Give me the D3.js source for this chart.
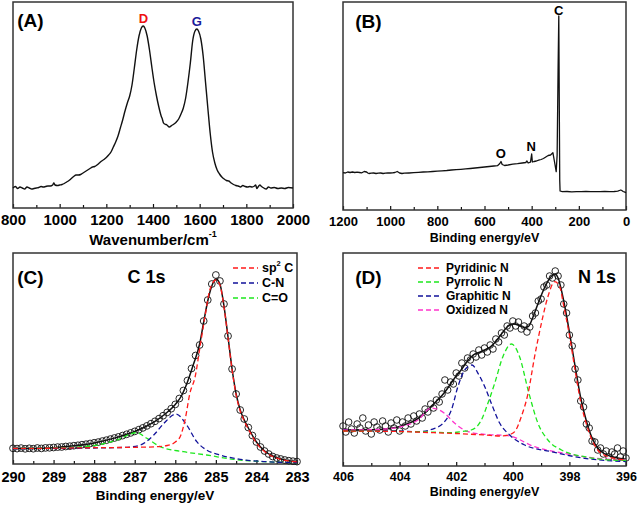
<!DOCTYPE html>
<html><head><meta charset="utf-8">
<script src="https://cdn.jsdelivr.net/npm/d3@7/dist/d3.min.js"></script>
<style>
body{margin:0;background:#fff}
svg{display:block}
text{font-family:"Liberation Sans",Arial,sans-serif;font-weight:bold;fill:#000}
</style>
</head><body>
<svg id="chart" width="638" height="505"></svg>
<script>
// ---------- Panel A: Raman spectrum [wavenumber, intensity(a.u.)] ----------
const ramanData = [[800,20],[810,21.5],[820,19.5],[830,21],[840,20],[850,19],[860,21],[870,20],[880,19],[890,19.5],[900,20],[910,20.5],[920,21.5],[930,21],[940,21.5],[950,22],[960,22],[970,23],[975,25],[980,23],[990,22.5],[1000,23],[1010,23.5],[1020,24.5],[1030,26],[1040,27.5],[1050,29.5],[1060,31.5],[1070,33],[1080,33],[1090,33.5],[1100,35],[1110,36.5],[1120,38],[1130,39.5],[1140,41],[1150,41.5],[1160,43],[1170,45],[1180,47],[1190,48.5],[1200,50.5],[1210,53],[1220,56],[1230,61],[1240,66],[1250,72],[1260,80],[1270,88],[1280,97],[1290,105],[1300,112],[1310,123],[1320,140],[1330,158],[1340,172],[1350,180],[1358,182],[1365,180],[1375,172],[1385,158],[1395,141],[1405,125],[1415,112],[1425,101],[1435,92],[1440,89],[1445,85],[1450,84],[1460,83],[1470,81],[1480,82.5],[1490,84],[1500,86],[1510,89],[1520,94],[1530,100],[1540,110],[1550,126],[1560,145],[1570,167],[1580,177],[1588,179],[1595,177],[1605,169],[1615,152],[1625,126],[1635,100],[1645,75],[1655,56],[1665,45],[1675,38],[1685,34],[1695,31],[1705,29],[1715,27.5],[1725,27],[1735,25],[1745,23.5],[1755,22.5],[1765,22],[1775,21],[1785,22.5],[1795,21.5],[1805,21],[1815,21.5],[1825,21],[1835,22],[1840,23],[1845,19.5],[1850,21],[1858,23],[1865,21.5],[1875,20],[1885,19],[1895,21],[1905,20],[1920,20.5],[1935,19.5],[1950,20],[1965,19.5],[1980,20.5],[2000,20]];
const ramanTicks = [800,1000,1200,1400,1600,1800,2000];
const ramanMinor = [900,1100,1300,1500,1700,1900];
const ramanPeaks = [{label:"D",x:1359,y:190,color:"#ee1111"},{label:"G",x:1588,y:187,color:"#1a1a9a"}];

// ---------- Panel B: XPS survey [binding energy, intensity] ----------
const surveyData = [[1200,37.3],[1190,37],[1180,38],[1170,37.5],[1160,38],[1150,37.5],[1140,37.8],[1130,37.5],[1120,37.2],[1110,38.5],[1100,38],[1095,37],[1090,36.5],[1080,36.8],[1070,37],[1060,36.5],[1050,36.8],[1040,37],[1030,36.5],[1020,36.8],[1010,37],[1000,37],[990,37.2],[980,37.5],[970,38.5],[960,37],[950,36.5],[940,36.8],[920,37],[900,37.3],[880,37.6],[860,38],[840,38.2],[820,38.5],[800,38.8],[780,39.2],[760,39.5],[740,40],[720,40.3],[700,40.7],[680,41.1],[660,41.5],[640,42],[620,42.5],[600,43],[580,43.5],[560,44],[545,44.3],[535,46.5],[530,48.5],[525,45.5],[515,44.5],[500,45],[480,45.8],[460,46.3],[440,47],[425,47.5],[420,49],[415,47],[405,47.8],[400,56],[397,48],[390,48.5],[380,49],[370,49.8],[360,50.5],[350,51.5],[340,53],[330,54.5],[320,55],[310,57.3],[303,48],[296,38.3],[292,55],[288,140],[285,194],[283,110],[281,30],[279.5,19],[270,18.3],[250,18.5],[230,18.2],[210,18.4],[190,18.3],[170,18.5],[150,18.3],[130,18.4],[110,18.3],[90,18.5],[70,18.3],[50,18.5],[35,18.8],[28,19.5],[22,20],[18,19.5],[12,18.5],[5,17.8],[0,17.3]];
const surveyTicks = [1200,1000,800,600,400,200,0];
const surveyMinor = [1100,900,700,500,300,100];
const surveyPeaks = [{label:"C",x:285,y:200},{label:"N",x:402,y:64},{label:"O",x:531,y:57}];

// ---------- Panel C: C 1s ----------
const c1sStart = 290, c1sStep = -0.1;
const c1sCounts = [15.7,15.4,15.9,15.2,15.7,15.3,16.0,15.6,16.1,16.2,
  16.5,16.9,17.0,17.5,17.8,18.3,18.7,19.3,19.8,20.5,
  21.2,21.9,22.9,23.8,24.9,26.0,27.1,28.4,29.7,31.1,
  32.6,34.3,36.1,38.1,40.3,42.7,45.4,48.3,51.6,55.3,
  59.6,65.5,73.5,83.5,95.5,108.5,119,143,164,180,
  189,183,160,128,95,70,54,45,36.5,28.5,
  22,17,13,10,7.5,6,5,4,3.3,2.8,2.4];
const c1sFit = [[290,15.6],[289.5,15.5],[289,16.3],[288.5,18.2],[288,21.1],[287.5,25.9],[287,32.5],[286.75,37],[286.5,42.6],[286.25,50],[286,59.5],[285.85,68],[285.7,82],[285.55,100],[285.4,120],[285.3,142],[285.2,163],[285.1,178],[285.0,185],[284.9,180],[284.8,158],[284.7,127],[284.6,95],[284.5,70],[284.4,54],[284.3,44],[284.2,36],[284.0,22],[283.8,13],[283.6,8],[283.4,5],[283.2,3.2],[283,2.4]];
const c1sSp2 = [[290,15.6],[289,15.8],[288,16.3],[287,16.7],[286.5,17.2],[286.2,18.5],[286.0,22],[285.88,27.3],[285.76,44],[285.64,70.7],[285.51,87.3],[285.39,117.3],[285.27,147],[285.15,174],[285.0,184],[284.9,179],[284.8,157],[284.7,126],[284.6,94],[284.5,69],[284.4,53],[284.3,43],[284.2,35],[284.0,21],[283.8,12.5],[283.6,7.5],[283.4,4.6],[283.2,3],[283,2.2]];
const c1sCN = [[290,15.5],[289,15.6],[288,16],[287.19,16.7],[286.86,19],[286.53,29],[286.28,40.7],[285.98,50],[285.72,39],[285.47,22.3],[285.23,14],[284.9,9],[284.4,4.7],[283.75,2.3],[283,1.3]];
const c1sCO = [[290,15.7],[289,16],[288.27,17.3],[287.8,20],[287.44,24],[286.95,31.3],[286.7,25.7],[286.37,17.3],[285.8,12.3],[285.23,9],[284.57,4.7],[283.8,2.3],[283,1.3]];
const c1sTicks = [290,289,288,287,286,285,284,283];
const c1sMinor = [289.5,288.5,287.5,286.5,285.5,284.5,283.5];

// ---------- Panel D: N 1s ----------
const n1sStart = 406, n1sStep = -0.1;
const n1sCounts = [40,34,44,37,33,42,38,48,35,41,
  32,44,39,36,45,40,34,43,38,46,
  35,44,40,48,42,50,45,52,48,57,
  54,62,58,66,64,72,86,76,84,82,
  93,90,103,98,108,106,112,109,116,111,
  118,114,121,117,127,124,133,131,140,138,
  145,140,144,137,140,134,139,150,153,165,
  167,179,181,190,188,195,190,181,162,153,
  131,120,97,86,65,59,42,38,25,24,
  16,18,12,15,9,14,12,18,9,15,8];
const n1sFit = [[406,36],[405,36.2],[404.5,37.1],[404,39.5],[403.7,42.4],[403.4,46.5],[403.2,50.5],[403,56],[402.8,62],[402.6,67.5],[402.4,74],[402.2,82],[402,90],[401.8,97],[401.6,105],[401.4,111],[401.2,113.5],[401,116],[400.8,119],[400.6,124.5],[400.4,132],[400.2,139],[400,142],[399.8,141],[399.6,138.5],[399.45,139.5],[399.3,148],[399.1,163],[398.9,177],[398.7,187.5],[398.5,192],[398.4,188],[398.2,165],[398,134],[397.8,100],[397.6,68],[397.4,45],[397.2,28],[397,18],[396.8,13],[396.5,9.3],[396.2,7.5],[396,6.7]];
const n1sPyridinic = [[406,35],[404,34.5],[403,33.5],[402,32.5],[401,31],[400.4,30],[400.1,31.5],[399.93,34.3],[399.7,49.3],[399.46,72.7],[399.23,109.3],[398.99,142.7],[398.76,169.3],[398.52,184.3],[398.35,180],[398.2,160],[398,131],[397.8,96],[397.6,64],[397.4,42],[397.2,26],[397,16],[396.7,10],[396.4,7.5],[396,6]];
const n1sPyrrolic = [[406,35],[404,34.5],[403,34],[402.17,33.3],[401.8,34.5],[401.47,36],[401.11,46],[400.88,62.7],[400.64,82.7],[400.35,109.3],[400.05,122],[399.76,109.3],[399.46,76],[399.11,42.7],[398.76,26],[398.28,16],[397.46,9.3],[396.8,6.5],[396,5.5]];
const n1sGraphitic = [[406,35.5],[404,35],[403.35,34.3],[402.76,37.7],[402.41,44.3],[402.17,56],[401.94,79.3],[401.7,96],[401.44,101],[401.23,92.7],[400.99,79.3],[400.76,62.7],[400.46,42.7],[400.11,31],[399.58,21],[398.64,14.3],[397.46,7.7],[396,4.5]];
const n1sOxidized = [[406,36],[405,36.3],[404.5,37],[403.94,39.3],[403.35,46],[402.88,58],[402.41,52.7],[402.05,42.7],[401.58,34.3],[401,31.7],[400.17,30.3],[399.23,19.3],[398.05,12],[397,7.5],[396,6]];
const n1sTicks = [406,404,402,400,398,396];
const n1sMinor = [405,403,401,399,397];

// ---------- colours for fitted components ----------
const cRed = "#ff1a1a", cBlue = "#12129a", cGreen = "#1ee81e", cPink = "#ff33cc";

const svg = d3.select("#chart");

function makePanel(o) {
  const x = d3.scaleLinear().domain(o.xd).range([o.x0, o.x1]);
  const y = d3.scaleLinear().domain(o.yd).range([o.y1, o.y0]);
  const g = svg.append("g");
  g.append("g").attr("transform", `translate(0,${o.y1})`)
    .call(d3.axisBottom(x).tickValues(o.minor).tickSizeInner(-3).tickSizeOuter(0).tickFormat(""))
    .call(s => { s.select(".domain").remove(); s.selectAll("line").attr("stroke","#111").attr("stroke-width",1.2); });
  g.append("g").attr("transform", `translate(0,${o.y1})`)
    .call(d3.axisBottom(x).tickValues(o.major).tickSizeInner(-4).tickSizeOuter(0).tickPadding(o.pad).tickFormat(d3.format("d")))
    .call(s => {
      s.select(".domain").remove();
      s.selectAll("line").attr("stroke","#111").attr("stroke-width",1.2);
      s.selectAll("text").attr("font-size", o.tickFont).attr("font-family","Liberation Sans, Arial, sans-serif").attr("font-weight","bold").attr("fill","#000");
    });
  g.append("rect").attr("x", o.x0).attr("y", o.y0).attr("width", o.x1 - o.x0).attr("height", o.y1 - o.y0)
    .attr("fill","none").attr("stroke","#333").attr("stroke-width",1.5);
  const t = g.append("text").attr("x", (o.x0 + o.x1) / 2).attr("y", o.titleY)
    .attr("text-anchor","middle").attr("dominant-baseline","central").attr("font-size", o.titleFont);
  t.append("tspan").text(o.title);
  if (o.titleSup) t.append("tspan").attr("dy", -5).attr("font-size", o.titleFont * 0.6).text(o.titleSup);
  g.append("text").attr("x", o.letterX).attr("y", o.letterY).attr("text-anchor","middle")
    .attr("dominant-baseline","central").attr("font-size", 19).text(o.letter);
  return {x, y, g};
}

function drawLine(p, data, color, width, dash, curve) {
  p.g.append("path").datum(data)
    .attr("fill","none").attr("stroke", color).attr("stroke-width", width)
    .attr("stroke-dasharray", dash || null).attr("stroke-linejoin","round")
    .attr("d", d3.line().x(d => p.x(d[0])).y(d => p.y(d[1])).curve(curve || d3.curveLinear));
}
function drawCircles(p, start, step, counts, r) {
  p.g.append("g").selectAll("circle").data(counts).join("circle")
    .attr("cx", (d, i) => p.x(start + i * step)).attr("cy", d => p.y(d))
    .attr("r", r).attr("fill","none").attr("stroke","#111").attr("stroke-width",0.9);
}
function legend(p, items, lx0, lx1, tx, ys, fs) {
  items.forEach((it, i) => {
    p.g.append("line").attr("x1", lx0).attr("x2", lx1).attr("y1", ys[i]).attr("y2", ys[i])
      .attr("stroke", it.color).attr("stroke-width", 1.3).attr("stroke-dasharray","5,3");
    const t = p.g.append("text").attr("x", tx).attr("y", ys[i]).attr("dominant-baseline","central").attr("font-size", fs);
    if (it.sup) {
      t.append("tspan").text(it.pre);
      t.append("tspan").attr("dy", -5).attr("font-size", fs * 0.6).text(it.sup);
      t.append("tspan").attr("dy", 5).text(it.post);
    } else t.text(it.label);
  });
}

// ---------- A ----------
const pA = makePanel({x0:13, x1:293, y0:2, y1:208, xd:[800,2000], yd:[0,206], major:ramanTicks, minor:ramanMinor,
  pad:6.5, tickFont:15, title:"Wavenumber/cm", titleSup:"-1", titleFont:15, titleY:239, letter:"(A)", letterX:30.5, letterY:20});
drawLine(pA, ramanData, "#111", 1.4, null, d3.curveMonotoneX);
ramanPeaks.forEach(pk => pA.g.append("text").attr("x", pA.x(pk.x)).attr("y", pA.y(pk.y)).attr("text-anchor","middle")
  .attr("dominant-baseline","central").attr("font-size",13).style("fill", pk.color).text(pk.label));

// ---------- B ----------
const pB = makePanel({x0:343, x1:626, y0:2, y1:210, xd:[1200,0], yd:[0,208], major:surveyTicks, minor:surveyMinor,
  pad:7, tickFont:13, title:"Binding energy/eV", titleFont:12.5, titleY:237.5, letter:"(B)", letterX:368.5, letterY:21.5});
drawLine(pB, surveyData, "#111", 1.3);
surveyPeaks.forEach(pk => pB.g.append("text").attr("x", pB.x(pk.x)).attr("y", pB.y(pk.y)).attr("text-anchor","middle")
  .attr("dominant-baseline","central").attr("font-size",13).text(pk.label));

// ---------- C ----------
const pC = makePanel({x0:13, x1:297, y0:253, y1:464, xd:[290,283], yd:[0,211], major:c1sTicks, minor:c1sMinor,
  pad:7.7, tickFont:14.5, title:"Binding energy/eV", titleFont:13.5, titleY:495, letter:"(C)", letterX:30.5, letterY:277});
drawCircles(pC, c1sStart, c1sStep, c1sCounts, 3.4);
drawLine(pC, c1sFit, "#111", 1.5, null, d3.curveMonotoneX);
drawLine(pC, c1sCO, cGreen, 1.3, "5,3", d3.curveMonotoneX);
drawLine(pC, c1sCN, cBlue, 1.3, "5,3", d3.curveMonotoneX);
drawLine(pC, c1sSp2, cRed, 1.3, "5,3", d3.curveMonotoneX);
pC.g.append("text").attr("x",146.5).attr("y",277).attr("text-anchor","middle").attr("dominant-baseline","central").attr("font-size",18).text("C 1s");
legend(pC, [{pre:"sp", sup:"2", post:" C", color:cRed},{label:"C-N", color:cBlue},{label:"C=O", color:cGreen}],
  233, 258, 262, [268, 283, 298], 12.5);

// ---------- D ----------
const pD = makePanel({x0:343, x1:626, y0:253, y1:466, xd:[406,396], yd:[0,213], major:n1sTicks, minor:n1sMinor,
  pad:6.5, tickFont:12.5, title:"Binding energy/eV", titleFont:12.5, titleY:492, letter:"(D)", letterX:368.5, letterY:277});
drawCircles(pD, n1sStart, n1sStep, n1sCounts, 3.3);
drawLine(pD, n1sFit, "#111", 1.5, null, d3.curveMonotoneX);
drawLine(pD, n1sOxidized, cPink, 1.3, "5,3", d3.curveMonotoneX);
drawLine(pD, n1sGraphitic, cBlue, 1.3, "5,3", d3.curveMonotoneX);
drawLine(pD, n1sPyrrolic, cGreen, 1.3, "5,3", d3.curveMonotoneX);
drawLine(pD, n1sPyridinic, cRed, 1.3, "5,3", d3.curveMonotoneX);
pD.g.append("text").attr("x",597).attr("y",277).attr("text-anchor","middle").attr("dominant-baseline","central").attr("font-size",18).text("N 1s");
legend(pD, [{label:"Pyridinic N", color:cRed},{label:"Pyrrolic N", color:cGreen},{label:"Graphitic N", color:cBlue},{label:"Oxidized N", color:cPink}],
  418, 441, 446, [268, 282, 296, 310], 12);
</script>
</body></html>
